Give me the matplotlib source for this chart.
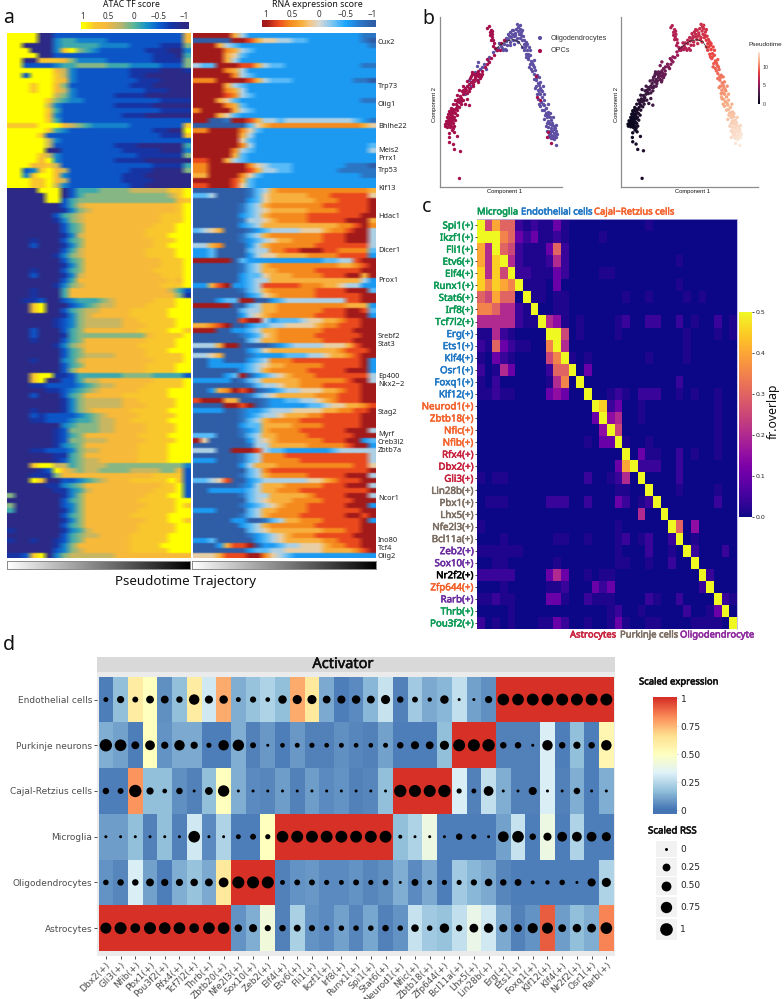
import numpy as np
import matplotlib
matplotlib.use("Agg")
import matplotlib.pyplot as plt
import matplotlib.patheffects as pe
from matplotlib.colors import LinearSegmentedColormap as LSC
from matplotlib.patches import Rectangle

W, H = 784, 999
UI = "Noto Sans"

# ---------------- panel a: row values, one digit per bin (0 = -1 ... 9 = +1)
atac_top = """
999900222222222222222227
999900344333322222222227
990000344444333322221115
999000389543222222111003
999900222222222222211104
990088875333322222211115
992222344555544433332225
999999763222222211110001
992999863222222211000000
999999873222222221110000
999899752222222211100000
999899763222222222111000
999999653222221111000000
999998543322222222221111
999996322222221111100000
999998422222222222221111
999997322222222111000000
999998422222222222222222
888899976543333322222228
999998432222222222211009
999982222222222222221118
999996322222222222222222
999996222222221110000004
999990022222222111110003
999986322222222221111115
999979322222221111000000
999778622222222222211114
992389762222222211100005
993899732222222111000000
999889762222222111100000
999889632222222211000000
""".split()
atac_bottom = """
000099902444555566666889
000009902455555555555689
000009924555555555555578
000000024677777777777789
000000013567777777777789
000000245677777777778889
000000135677777777778889
000000024577777777788899
000000024577777777888899
000000013677777777888999
000100024577777777788899
000200013577777777788999
000000024677777777888899
000000135677777777888899
000000024577777777778889
000000013577777777778889
000100024577777777788889
000200013677777777778889
000000024777777777777879
000000135677777777778889
000100047777777777777642
000100047777777777777751
001120023444567777788899
000890002345667777888899
000890024566777788888999
000000013567777788888999
000000123566666778888899
000000123566666777888899
000200024577777778888998
000200014555555555788889
000100024577777777888899
000000135677777778888899
000000024577777777888999
000000024566667777888889
000100034677777777788889
000000024577777777888899
000000025777777777888899
000899112444444555544442
000890022466777777788889
000112222345667777888889
000001123456777778888999
000200024577777888888999
000000013566666778888899
000000013566666777888899
000100013567777788888999
000212222345677778888899
000112223445667788888999
000000034555667777888899
000000125555667777888899
000000124577777778888999
000000125566677777888899
000000134577777778888999
000112223566777778888999
000000114577777778888999
000000124566777778888999
000899664566655555555553
000012976566555566665572
000111577777777777788882
000980022345677788888982
000001134577777777778892
000000113467777777788892
500000013577777777888992
000000024577777778888899
500000023577777777888898
400000013577777778888899
000000024577777788888999
000000013577777777888998
000000024577777778888899
100000013467777778888899
000000024566777788888999
100100124577777788888999
000000135777777788889999
000000235677777788888999
112890356666667777777777
""".split()
rna_top = """
999996422222222222222211
000009986554433222222210
999643222222222222222221
999976432222222222222222
999965322222222222222222
999964222222222222222222
433999886433222222222211
999976422222222222222222
999997432222222222222222
777999986433322222222110
999964322222222222222222
999976422222222222222222
999987432222222222222222
999653222222222222222211
999976322222222222222222
799996432222222222222222
999653222222222222222222
990019986443444444444321
000000035677777777777765
779999753222222222222222
999999642222222222222222
999999532222222222222222
999999742222222222222223
999997432222222222222224
999996322222222222222222
889964322222222222222222
779999975433322222221110
779999986443322222211111
669999753222222222222211
999998632222222222222222
889998532222222222222222
""".split()
rna_bottom = """
000000013467777777777776
334000013566666777888885
000000023566666677788889
000000134677777778888889
000000134566666777788889
000000234677777888888899
000000144567777888889996
000000234666666666677897
345600012344445556778994
000000134677777778889994
000000123456677778889994
446700024677777788888884
223000034477889998877773
223000024556666777788882
999990322222222223344899
000000134677777777766789
000000134667777788888899
000000233566677778889969
000000234466666666666642
226892234888887776654422
000000134677777788889993
000000023567777788888899
000233990023444444448899
999990034667777777776662
000000344667777778889983
000000245677777788889992
000000899423334556678899
667890023344555567788899
999002234667777778888999
000000123567777788888899
000000034667777778888999
444699000012344445556899
000000023566666666678889
445600012222333445667899
002200023477788888888892
002222234566777778888892
000000234677777888889992
000023902345677788888884
222220134666667777778994
000000013445667778888899
002679890123445556678899
000000013456666677788899
899966000122334456788899
000099890122222334556678
222200122344455556677889
000000123445666778888899
000000134677778888888899
000000233666677778888899
000000123677778888889994
333000134667777888888999
950000024567777778889923
000000014466666777778992
444009998433222222344444
000000134777888888888884
222000134777778888888884
000000246667777777777885
000000034788888888888889
000000134677777888889994
334580023444444556788899
000000124666777778889994
002222234667778888888889
000000134466666788889994
000000034566677778888999
000000123456777888889992
222000034667777888888899
000000134677778888889989
000002200134667778888892
000000234677777788888899
000000034566666667778899
000000012345677788888999
223000002345666667788899
000268890223445556778899
000000023344555556666789
555688899754322222222222
""".split()
genes = ["Cux2","Trp73","Olig1","Bhlhe22","Meis2","Prrx1","Trp53","Klf13","Hdac1","Dicer1","Prox1","Srebf2",
         "Stat3","Ep400","Nkx2−2","Stag2","Myrf","Creb3l2","Zbtb7a","Ncor1","Ino80","Tcf4","Olig2"]
gene_rows = [42,87,105,126,150,159,170,189,217,250,281,337,345,376,385,412,435,442,450,499,540,548,556]

# ---------------- panel b: cell positions (component 1, component 2 from top, pseudotime)
opc_cells = [(146,535,1),(150,452,1.2),(133,448,1),(128,432,.8),(118,425,.8),(141,409,1),(117,412,.6),(118,398,.5),(125,390,.5),(131,395,.6),
(105,378,.2),(108,372,.2),(112,380,.3),(116,376,.3),(120,382,.4),(124,378,.5),(128,385,.6),(133,378,.7),(110,365,.3),(114,360,.3),(118,366,.4),(122,360,.4),(126,366,.6),(130,370,.7),(112,352,.4),(116,350,.4),(120,354,.4),(124,350,.5),(128,356,.6),(132,352,.7),(115,342,.4),(119,340,.5),(123,344,.5),(127,340,.6),(118,332,.6),(122,330,.6),(126,332,.7),(130,335,.8),(124,322,.8),(128,326,.9),(133,328,1),(137,322,1),(140,345,1),(136,360,.9),(107,362,.2),(104,372,.2),(113,370,.3),(121,372,.4),(127,347,.6),(117,358,.4),
(130,312,1.2),(138,310,1.3),(142,316,1.3),(146,305,1.5),(150,298,1.6),(144,296,1.6),(154,292,1.8),(150,286,1.8),(158,282,1.9),(155,272,2),(162,276,2.1),(168,268,2.3),(146,268,1.9),(172,278,2.4),(178,315,2.2),(166,310,2),(160,300,1.9),(165,262,2.4),(172,258,2.6),(176,250,2.8),(180,262,2.7),(184,245,3),(190,250,3.1),(188,238,3.1),(195,232,3.3),(200,238,3.4),(204,228,3.5),(210,232,3.6),(198,222,3.4),(192,222,3.2),(208,220,3.7),(212,226,3.8),(215,212,4),(205,212,3.8),(186,215,3.1),(180,232,2.9),(225,200,4.4),(232,192,4.7),(238,185,4.9),(230,175,4.8),(244,172,5.2),(252,165,5.5),(202,218,3.6),(196,228,3.3),(176,262,2.6),(160,270,2.2),(152,302,1.7),(140,303,1.5),
(135,300,1.5),(142,285,1.7),(152,312,1.7),(158,258,2.3),(170,242,2.7),(178,272,2.6),(183,228,3),(192,242,3.1),(188,258,3),(204,245,3.5),(172,295,2.3),(148,320,1.5),(135,340,1),(142,330,1.2),(185,222,3),(215,222,3.9),
(236,76,6.3),(232,82,6.2),(243,88,6.3),(240,96,6.3),(247,102,6.3),(245,110,6.2),(250,118,6.2),(243,118,6.3),(252,128,6.1),(249,136,6),(256,142,6),(262,148,6),(282,120,6.6),(274,128,6.4),(270,148,6.2),(240,105,6.3),(246,93,6.3),
(378,228,10),(383,290,11.5),(390,298,11.8),(415,395,13),(412,412,13.4),(425,430,13.8)]
oligo_cells = [(150,300,1.7),(165,280,2.2),(182,258,2.8),(178,240,3),(205,240,3.6),(195,215,3.3),(210,205,4),(205,185,4.5),(222,192,4.6),(228,205,4.4),(238,170,5),(250,155,5.6),(258,150,5.8),(265,142,6),(272,138,6.2),(280,150,6.3),(286,145,6.4),(292,135,6.5),(282,130,6.5),(290,122,6.6),(296,115,6.7),(300,125,6.8),(305,110,6.9),(310,118,7),(316,105,7.1),(322,112,7.2),(295,100,6.7),(302,95,6.8),(310,90,7),(318,85,7.2),(322,72,7.3),(325,92,7.3),(330,85,7.4),(335,95,7.5),(328,102,7.4),(332,112,7.6),(338,120,7.8),(325,125,7.5),(342,130,8),(348,125,8.1),(345,140,8.2),(352,148,8.4),(342,150,8.2),(358,140,8.5),(356,160,8.6),(348,162,8.6),(362,165,8.8),(354,175,8.9),(365,182,9),(360,190,9.1),(370,195,9.3),(365,205,9.3),(376,208,9.5),(372,220,9.6),(382,225,9.8),(378,240,10),(385,248,10.2),(380,258,10.3),(390,262,10.5),(384,270,10.6),(396,272,10.7),(392,282,10.9),(385,296,11),(398,290,11.1),(404,300,11.4),(395,305,11.3),(388,312,11.4),(402,315,11.7),(410,322,11.9),(398,330,11.9),(408,338,12.1),(416,335,12.2),(405,345,12.3),(412,352,12.5),(420,350,12.5),(416,362,12.7),(424,360,12.8),(412,370,12.8),(420,372,13),(428,368,13),(432,378,13.2),(416,382,13.1),(424,384,13.2),(436,385,13.3),(420,392,13.3),(428,394,13.4),(434,398,13.5),(438,392,13.5),(424,404,13.5),(430,408,13.6),(436,410,13.7),(440,412,13.8),(432,418,13.8),(438,436,14),(425,415,13.7),
(315,98,7.1),(306,102,6.9),(298,108,6.8),(288,112,6.6),(326,80,7.3),(334,105,7.5),(338,88,7.5),(320,118,7.3),(312,108,7),(344,118,8),(350,135,8.3),(338,140,8),(356,170,8.8),(368,188,9.2),(374,200,9.4),(380,232,9.9),(388,255,10.4),(394,268,10.7),(388,278,10.8),(400,310,11.5),(414,345,12.4),(418,368,12.9),(426,376,13.1),(422,398,13.4),(432,388,13.4),(418,404,13.4),(436,402,13.6),(428,414,13.7),(262,150,6),(276,144,6.2),(268,128,6.2),(216,200,4.2),(200,196,4.2),(234,180,4.9),
(300,135,6.7),(312,130,7),(290,150,6.5),(306,88,6.9),(330,75,7.4),(340,108,7.7),(352,130,8.3),(362,150,8.6),(350,170,8.7),(372,178,9.2),(358,200,9.2),(368,212,9.5),(388,230,10),(372,235,9.8),(392,245,10.3),(376,262,10.3),(400,258,10.6),(382,280,10.8),(404,282,11.2),(392,318,11.5),(414,312,11.9),(404,328,12),(420,340,12.4),(402,358,12.4),(430,352,12.8),(408,378,12.9),(440,376,13.3),(412,392,13.2),(442,402,13.7),(422,412,13.6)]
trajectory_x = [255,270,290,310,328,340]
trajectory_y = [148,135,122,118,125,145]

# ---------------- panel c
tf_names = ["Spi1","Ikzf1","Fli1","Etv6","Elf4","Runx1","Stat6","Irf8","Tcf7l2","Erg","Ets1","Klf4","Osr1","Foxq1","Klf12",
            "Neurod1","Zbtb18","Nfic","Nfib","Rfx4","Dbx2","Gli3","Lin28b","Pbx1","Lhx5","Nfe2l3","Bcl11a","Zeb2","Sox10",
            "Nr2f2","Zfp644","Rarb","Thrb","Pou3f2"]
tf_colors = ["#0a9a55"]*9+["#1f77c4"]*6+["#f4622c"]*4+["#c8213d"]*3+["#7d6e63"]*5+["#6a2ca0"]*2+["#000000","#f4622c","#6a2ca0","#0a9a55","#0a9a55"]
overlap_levels = {'.':0.0,'a':.015,'1':.04,'2':.1,'3':.15,'4':.2,'5':.25,'6':.3,'7':.35,'8':.4,'9':.45,'Y':.5}
overlap_rows = [
"Y5866 1a1aa 2a... ..... ..a.. ..... ....",
"YYY76 212aa 1a... .a... ..... ..... ....",
"84Y65 1aaa2 61... ..... ..... ..... ....",
"849Y4 1aaa1 41... ..... ..... .a... ....",
"9495Y 11aaa 21... .aa.. ..... ..... ....",
"97987 Yaaa. 2.... ..... ..... .a... ....",
"65866 .Yaa. aa... ....a ..a.. ..a.a ....",
"77644 1aY.. aa... ..... ..... ..... ....",
"44444 1aaY4 3a.a. ...a1 ..11. .1.a. .1.a",
"aa41a ....Y Y5.a. ...a. ..... ..a.. .a.a",
"1a621 aa..7 Y4... ..... ..... ..a.. ....",
"a.21a ....5 7Ya.a ..... ..a.. ..a.. ....",
"1.a42 ....1 66Y.2 ..... ..... ..... ....",
"a.1.. ....a 47.Y. ..... ..... .1... ....",
"aa1aa ....2 32..Y ..a1a .111. .a.a. .a..",
"..... ..... ..... Y912. .a... ..... .a..",
"..... ..... ..... 2Y34. .a... ..... .a..",
"..... ..... ..... .3Y5. ..... ..... .a..",
"..... ..... ....a .22Ya ..a.. ..... .a..",
"..... ..... ..... ....Y .2aa. .1.a. .a..",
"..... ..... ..... ...28 Y111. .1... ....",
"a.aa. ..... ....1 ..a14 .Y... .1... ....",
"..... ..... ..... ...aa ..Y.. .a... .a..",
".aaa. ....1 11..1 ...21 .a1Y. ..... .1..",
"..... ..... ..... ..... .4..Y ..... ....",
"a.... ..... ..... ...a. ..... Y6.3. ....",
"...a. ..... aa..a ...a1 .a1.. 1Y.a. ....",
"aaaaa a.... ..... ...a. ..1.. a.Y1. ..1.",
"..aa. ..... a.... ...aa ..a.. 1..Y. ....",
"11111 ....2 42..a .aa.. ..... ....Y 1...",
"...a. ....a a1... 212.. ..... ....1 Y...",
"aa1aa ....2 2a..1 aaa.. ..1a. .1... .Y1a",
"....a ..... ..... ..a1. .a... ..1.. a2Y.",
"1.a.a ...aa 21..a ..a2a ..aa. ...aa aa.Y",
]

# ---------------- panel d
activators = ["Dbx2","Gli3","Nfib","Pbx1","Pou3f2","Rfx4","Tcf7l2","Thrb","Zbtb20","Nfe2l3","Sox10","Zeb2","Elf4","Etv6","Fli1","Ikzf1","Irf8","Runx1","Spi1","Stat6",
              "Neurod1","Nfic","Zbtb18","Zfp644","Bcl11a","Lhx5","Lin28b","Erg","Ets1","Foxq1","Klf12","Klf4","Nr2f2","Osr1","Rarb"]
cell_types = ["Endothelial cells","Purkinje neurons","Cajal-Retzius cells","Microglia","Oligodendrocytes","Astrocytes"]
expr_endothelial = [.02,.17,.6,.5,.06,.17,.6,.3,.77,.13,.18,.23,.17,.77,.62,.12,.02,.05,.15,.28,.03,.2,.12,.15,.27,.1,.06,1,1,1,1,1,1,1,1]
expr_purkinje = [.13,.1,.02,.5,.07,.12,.12,.02,.02,.13,.03,.08,.02,.08,.03,.03,.06,.04,.03,.1,.02,.02,.02,.17,1,1,1,.03,.03,.03,.32,.02,.17,.02,.55]
expr_cajal = [.02,.02,.82,.17,.17,.06,.03,.17,.5,.13,.05,.04,.09,.03,.09,.05,.07,.03,.04,.17,1,1,1,1,.32,.03,.27,.13,.03,.03,.32,.03,.13,.02,.13]
expr_microglia = [.09,.09,.17,.03,.17,.03,.3,.05,.23,.02,.02,.5,1,1,1,1,1,1,1,1,.17,.23,.4,.02,.02,.02,.02,.1,.28,.02,.4,.02,.23,.02,.02]
expr_oligo = [.07,.04,.32,.1,.02,.13,.18,.12,.62,1,1,1,.03,.07,.08,.05,.05,.07,.04,.06,.13,.05,.12,.02,.2,.15,.12,.04,.02,.02,.02,.02,.02,.02,.23]
expr_astro = [1,1,1,1,1,1,1,1,1,.07,.13,.42,.03,.22,.07,.05,.1,.04,.11,.03,.07,.28,.2,.18,.27,.38,.3,.12,.03,.07,.92,.09,.17,.13,.85]
rss_endothelial = [.04,.19,.09,.25,.25,.13,.59,.28,.32,.04,.11,.03,.32,.4,.4,.25,.28,.32,.25,.4,.13,.09,.02,.32,0,0,.19,.8,.8,.85,.85,.85,.85,.85,.85]
rss_purkinje = [.93,.8,.25,.49,.19,.59,.19,.05,.59,.75,.09,0,.03,.04,.05,.03,.04,.03,.03,.04,.13,.28,.25,.4,.87,.87,.93,.13,.13,0,.59,.13,.19,.13,.59]
rss_cajal = [.13,.09,.93,.19,.03,.13,0,.25,.75,0,0,0,0,0,0,0,0,0,0,0,.93,.87,.87,.93,.05,.04,.49,0,0,.28,0,0,.13,0,0]
rss_microglia = [0,0,0,0,0,0,.8,0,0,.04,.09,.05,.8,.85,.85,.85,.85,.85,.85,.85,.01,0,0,0,.13,.05,0,.64,.8,.13,.28,.49,.49,.49,.4]
rss_oligo = [.07,.13,.13,.25,.19,.19,.22,.25,.49,.87,.87,.87,.04,.09,.09,.05,.04,.09,.05,.09,0,.16,.04,.05,.05,.11,.22,.13,.16,.01,.02,.07,0,.28,.4]
rss_astro = [.69,.87,.49,.87,.8,.8,.49,.8,.8,.22,.28,.11,.13,.16,.11,.07,.07,.07,.07,.13,.07,.22,.07,.44,.13,.36,.44,.28,.25,.54,.69,.25,.32,.36,.8]
rss_legend = [0,.25,.5,.75,1]

# ---------------- colour maps
atac_cmap = LSC.from_list("atac",[(0,"#2C2A86"),(.125,"#1436A8"),(.25,"#0A5FD2"),(.375,"#1B95C8"),(.5,"#5CB896"),(.625,"#B9B56E"),(.78,"#F6B93A"),(.89,"#F8C62E"),(1,"#FFFF00")])
rna_cmap = LSC.from_list("rna",[(0,"#2F5DA6"),(.12,"#2B78C8"),(.25,"#18A5FF"),(.38,"#7CC6F2"),(.5,"#D8D8D8"),(.6,"#F5C77E"),(.67,"#F8AE3A"),(.78,"#F58A1E"),(.89,"#EB4A1E"),(1,"#A31A1A")])
expr_cmap = LSC.from_list("expr",["#4575B4","#91BFDB","#E0F3F8","#FFFFBF","#FEE090","#FC8D59","#D73027"])
time_cmap = LSC.from_list("time",["#03051A","#4C1D4B","#A11A5B","#E83F3F","#F6A47B","#FAEBDD"])

fig = plt.figure(figsize=(W/100,H/100),dpi=100,facecolor="white")
def px_axes(x0,y0,x1,y1,**kw):
    return fig.add_axes([x0/W,1-y1/H,(x1-x0)/W,(y1-y0)/H],**kw)
def rows_to_array(rows):
    a = np.array([[int(c) for c in r] for r in rows],float)/4.5-1
    return np.repeat(a,3,axis=0)
def embolden(txt,col,lw=.4):
    txt.set_path_effects([pe.withStroke(linewidth=lw,foreground=col)])

# ---------------- a
for x0,x1,top,bottom,cmap in [(6.7,190,atac_top,atac_bottom,atac_cmap),(192.7,375.7,rna_top,rna_bottom,rna_cmap)]:
    ax = px_axes(x0,33,x1,558)
    ax.imshow(rows_to_array(top),extent=(0,1,188,33),aspect="auto",cmap=cmap,vmin=-1,vmax=1,interpolation="bilinear")
    ax.imshow(rows_to_array(bottom),extent=(0,1,558,188),aspect="auto",cmap=cmap,vmin=-1,vmax=1,interpolation="bilinear")
    ax.set_xlim(0,1); ax.set_ylim(558,33)
    ax.axis("off")
    if cmap is rna_cmap:
        for g,y in zip(genes,gene_rows):
            ax.annotate(g,(1,y),xycoords=("axes fraction","data"),xytext=(1.6,0),textcoords="offset points",
                        fontsize=5.3,family=UI,va="center",ha="left",color="#222222",annotation_clip=False)
for (x0,x1) in [(6.7,190),(191.7,375.7)]:
    ax = px_axes(x0,561,x1,569)
    ax.imshow(np.linspace(0,1,256)[None,:],aspect="auto",cmap="gray_r",vmin=0,vmax=1)
    ax.set_xticks([]); ax.set_yticks([])
    for s in ax.spines.values(): s.set_color("#8a8a8a"); s.set_linewidth(.7)

for (x0,x1,left,right,cm,y0,y1) in [(81,189,1.04,-1.10,atac_cmap,22,29),(262,375,1.075,-1.057,rna_cmap,20,27)]:
    ax = px_axes(x0,y0,x1,y1)
    ax.imshow(np.linspace(left,right,256)[None,:],aspect="auto",cmap=cm,vmin=-1,vmax=1,extent=(left,right,0,1))
    ax.set_xlim(left,right); ax.set_yticks([])
    ax.xaxis.tick_top()
    ax.set_xticks([1,.5,0,-.5,-1]); ax.set_xticklabels(["1","0.5","0","−0.5","−1"],fontsize=5.8,family=UI,color="#333333")
    ax.tick_params(axis="x",length=0,pad=1)
    for s in ax.spines.values(): s.set_visible(False)

# ---------------- b
opc = np.array(opc_cells,float); oligo = np.array(oligo_cells,float)
def comp_axes(x0,x1,left,right):
    ax = px_axes(x0,17,x1,186.7)
    ax.set_xlim(left,right); ax.set_ylim(560,50)
    ax.set_xticks([]); ax.set_yticks([])
    ax.spines["top"].set_visible(False); ax.spines["right"].set_visible(False)
    for s in ("left","bottom"): ax.spines[s].set_color("#8c8c8c"); ax.spines[s].set_linewidth(.9)
    return ax
ax = comp_axes(440,562,90,457)
ax.scatter(oligo[:,0],oligo[:,1],s=6,c="#5E4FA2",lw=0,clip_on=False)
ax.scatter(opc[:,0],opc[:,1],s=6,c="#A50F4B",lw=0,clip_on=False)
ax.plot(trajectory_x,trajectory_y,color="#222222",lw=.5)
ax = comp_axes(621,758,83,492)
both = np.vstack([opc,oligo])
ax.scatter(both[:,0],both[:,1],s=6,c=both[:,2],cmap=time_cmap,vmin=0,vmax=14,lw=0,clip_on=False)
ax.plot(trajectory_x,trajectory_y,color="#222222",lw=.5)
ax = px_axes(758.3,52,760.3,104)
ax.imshow(np.linspace(14.05,0,128)[:,None],aspect="auto",cmap=time_cmap,vmin=0,vmax=14,extent=(0,1,0,14.05))
ax.set_xticks([]); ax.yaxis.tick_right(); ax.set_yticks([0,5,10]); ax.set_yticklabels(["0","5","10"],fontsize=3.8,family="Liberation Sans",color="#333333")
ax.tick_params(axis="y",length=0,pad=1.5)
for s in ax.spines.values(): s.set_visible(False)

# ---------------- c
mat = np.array([[overlap_levels[c] for c in r.replace(" ","")] for r in overlap_rows])
ax = px_axes(477,219,737,629)
ax.imshow(mat,aspect="auto",cmap="plasma",vmin=0,vmax=.5,interpolation="nearest")
ax.set_xticks([])
ax.set_yticks(range(34)); ax.set_yticklabels([f"{t}(+)" for t in tf_names],fontsize=7,family=UI)
for lab,col in zip(ax.get_yticklabels(),tf_colors):
    lab.set_color(col); embolden(lab,col)
ax.tick_params(axis="y",length=1.5,width=.5,pad=1)
for s in ("left","bottom"): ax.spines[s].set_visible(False)
for s in ("top","right"): ax.spines[s].set_color("#b4b4e4"); ax.spines[s].set_linewidth(.6)
ax = px_axes(739,311.7,752,516.7)
ax.imshow(np.linspace(.5,0,256)[:,None],aspect="auto",cmap="plasma",vmin=0,vmax=.5,extent=(0,1,0,.5))
ax.set_xticks([]); ax.yaxis.tick_right(); ax.set_yticks([0,.1,.2,.3,.4,.5]); ax.set_yticklabels(["0.0","0.1","0.2","0.3","0.4","0.5"],fontsize=4.5,color="#222222")
ax.tick_params(axis="y",length=1.5,width=.5,pad=1)
for s in ax.spines.values(): s.set_visible(False)

# ---------------- d
expr = np.array([expr_endothelial,expr_purkinje,expr_cajal,expr_microglia,expr_oligo,expr_astro])
rss = np.array([rss_endothelial,rss_purkinje,rss_cajal,rss_microglia,rss_oligo,rss_astro])
def rss_area(v):
    d_px = (9+29*np.sqrt(v))/3
    return (d_px*.72)**2
uw = (613.7-98.5)/35; uh = (951-676.7)/6
ax = px_axes(97,672,615,955.7)
ax.set_facecolor("#ebebeb")
ax.pcolormesh(np.arange(36),np.arange(7),expr,cmap=expr_cmap,vmin=0,vmax=1,lw=0)
xx,yy = np.meshgrid(np.arange(35)+.5,np.arange(6)+.5)
ax.scatter(xx.ravel(),yy.ravel(),s=rss_area(rss.ravel()),c="black",lw=0,clip_on=False,zorder=3)
ax.set_xlim(-1.5/uw,35+1.3/uw); ax.set_ylim(6+4.7/uh,-4.7/uh)
ax.set_xticks(np.arange(35)+.5); ax.set_xticklabels([f"{a}(+)" for a in activators],rotation=45,ha="right",rotation_mode="anchor",fontsize=6.5,color="#4d4d4d")
ax.set_yticks(np.arange(6)+.5); ax.set_yticklabels(cell_types,fontsize=6.5,color="#4d4d4d")
ax.tick_params(length=2,width=.6,color="#333333",pad=1.5)
for s in ax.spines.values(): s.set_visible(False)
ax = px_axes(653,697,677,814)
lo = -4/112; hi = 1+1/112
ax.imshow(np.linspace(hi,lo,256)[:,None],aspect="auto",cmap=expr_cmap,vmin=0,vmax=1,extent=(0,1,lo,hi))
ax.set_xticks([]); ax.yaxis.tick_right(); ax.set_yticks([0,.25,.5,.75,1]); ax.set_yticklabels(["0","0.25","0.50","0.75","1"],fontsize=6.5,color="#222222")
ax.tick_params(axis="y",length=1,width=.4,color="#999999",pad=1.5)
for s in ax.spines.values(): s.set_visible(False)

# ---------------- overlay: annotations in figure pixels
ov = fig.add_axes([0,0,1,1]); ov.set_xlim(0,W); ov.set_ylim(H,0); ov.axis("off"); ov.patch.set_alpha(0)
def T(x,y,s,size,ha="left",va="center",color="#111111",family=UI,bold=False,rot=0):
    t = ov.text(x,y,s,fontsize=size,ha=ha,va=va,color=color,family=family,rotation=rot)
    if bold: embolden(t,color)
for s,x,y in [("a",3,23),("b",422,24),("c",422,212),("d",3,650)]:
    T(x,y,s,14,va="baseline")
T(131,4.5,"ATAC TF score",6.2,ha="center")
T(317,4.5,"RNA expression score",6.4,ha="center")
T(186,581,"Pseudotime Trajectory",9.6,ha="center")
LS="Liberation Sans"
T(505,191,"Component 1",4.2,ha="center",family=LS)
T(693,191,"Component 1",4.2,ha="center",family=LS)
T(435,105,"Component 2",4.2,ha="center",family=LS,rot=90)
T(617,105,"Component 2",4.2,ha="center",family=LS,rot=90)
ov.scatter([540,540],[38,51],s=[9,9],c=["#5E4FA2","#A50F4B"],lw=0)
T(551,38,"Oligodendrocytes",5.2,family=LS,color="#333333")
T(551,51,"OPCs",5.2,family=LS,color="#333333")
T(749,45,"Pseudotime",4.6,family=LS,color="#222222")
T(477,212,"Microglia",6.8,color="#0a9a55",bold=True)
T(521,212,"Endothelial cells",6.8,color="#1f77c4",bold=True)
T(594,212,"Cajal−Retzius cells",6.8,color="#f4622c",bold=True)
T(570,635,"Astrocytes",6.8,color="#c8213d",bold=True)
T(620,635,"Purkinje cells",6.8,color="#7d6e63",bold=True)
T(680,635,"Oligodendrocyte",6.8,color="#8e2a9e",bold=True)
T(773,411.5,"fr.overlap",8.8,ha="center",rot=90,color="#111111")
ov.add_patch(Rectangle((97,657),518,15,fc="#d9d9d9",ec="none"))
T(343,664.5,"Activator",10.5,ha="center",bold=True)
T(639,682,"Scaled expression",6.8,bold=True)
T(648,831,"Scaled RSS",7,bold=True)
key_y = [849,867,886,907,929]; key_h = [16,18,18,20,21]
for v,y,h in zip(rss_legend,key_y,key_h):
    ov.add_patch(Rectangle((656,y-h/2),21,h,fc="#f2f2f2",ec="none"))
    ov.scatter([666.5],[y],s=rss_area(v),c="black",lw=0,zorder=3)
    T(680,y,f"{v:g}" if v in (0,1) else f"{v:.2f}",6.5,family="DejaVu Sans",color="#222222")
fig.savefig("out.png",dpi=100,facecolor="white")
